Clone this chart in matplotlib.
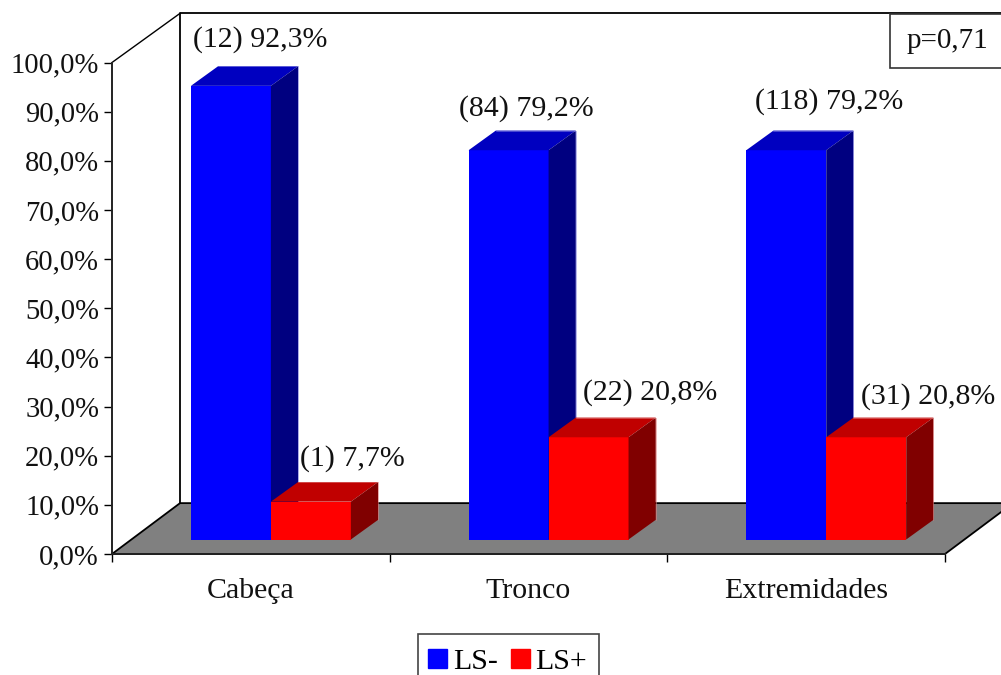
import matplotlib.pyplot as plt
import numpy as np
from matplotlib.patches import Patch, Polygon, Rectangle

plt.rcParams['font.family'] = ['Liberation Serif', 'DejaVu Serif']

categories = ['Cabeça', 'Tronco', 'Extremidades']
ls_neg_pct = [92.3, 79.2, 79.2]
ls_pos_pct = [7.7, 20.8, 20.8]
ls_neg_n = [12, 84, 118]
ls_pos_n = [1, 22, 31]
y_ticks = [0, 10, 20, 30, 40, 50, 60, 70, 80, 90, 100]
p_text = 'p=0,71'

# size of the fake 3D box, in data units
DEPTH_X = 0.245
DEPTH_Y = 10.0
FLOOR_Y = 10.35
BAR_W = 0.288
BAR_FRONT = 0.295
BAR_DEPTH = 0.40
FS = 21.5

W, H = 1001, 675
fig = plt.figure(figsize=(W / 100, H / 100), dpi=100)
ax = fig.add_axes([112 / W, 1 - 554 / H, 833 / W, 491.5 / H])
ax.set_xlim(0, 3)
ax.set_ylim(0, 100)
ax.patch.set_visible(False)


def proj(x, y, d):
    return (x + d * DEPTH_X, y + d * DEPTH_Y)


# floor and back walls
floor = [(0, 0), (3, 0), (3 + DEPTH_X, FLOOR_Y), (DEPTH_X, FLOOR_Y)]
ax.add_patch(Polygon(floor, closed=True, fc='#808080', ec='black', lw=1.3, clip_on=False, zorder=1))
wall_x = [DEPTH_X, DEPTH_X, 3 + DEPTH_X]
wall_y = [FLOOR_Y, 100 + DEPTH_Y, 100 + DEPTH_Y]
ax.plot(wall_x, wall_y, color='black', lw=1.3, clip_on=False, zorder=1)
ax.plot([0, DEPTH_X], [100, 100 + DEPTH_Y], color='black', lw=1, clip_on=False, zorder=1)


def draw_bar(x0, val, front, top, side, edge, z):
    dx0, base = proj(x0, 0, BAR_FRONT)
    x1 = dx0 + BAR_W
    ax.bar(dx0, val, BAR_W, bottom=base, align='edge', color=front, clip_on=False, zorder=z)
    ddx = BAR_DEPTH * DEPTH_X
    ddy = BAR_DEPTH * DEPTH_Y
    ytop = base + val
    ax.add_patch(Polygon([(dx0, ytop), (x1, ytop), (x1 + ddx, ytop + ddy), (dx0 + ddx, ytop + ddy)],
                         closed=True, fc=top, ec='none', clip_on=False, zorder=z))
    ax.add_patch(Polygon([(x1, base), (x1 + ddx, base + ddy), (x1 + ddx, ytop + ddy), (x1, ytop)],
                         closed=True, fc=side, ec='none', clip_on=False, zorder=z))
    # thin pale outline on the outer corner of the box
    ax.plot([dx0 + ddx, x1 + ddx, x1 + ddx], [ytop + ddy, ytop + ddy, base + ddy], color=edge, lw=0.4,
            clip_on=False, zorder=z)
    return dx0 + BAR_W / 2, ytop


neg_offsets = [(29, 46), (18, 42), (43, 49)]
pos_offsets = [(41, 43), (62, 45), (62, 41)]

for i in range(len(categories)):
    left = i + 0.5 - BAR_W
    xa, ya = draw_bar(left, ls_neg_pct[i], '#0000ff', '#0000c0', '#000080', '#8080e0', 3)
    xb, yb = draw_bar(left + BAR_W, ls_pos_pct[i], '#ff0000', '#c00000', '#800000', '#e08080', 4)
    label = f'({ls_neg_n[i]}) {ls_neg_pct[i]:.1f}%'.replace('.', ',')
    ax.annotate(label, (xa, ya), xytext=neg_offsets[i], textcoords='offset pixels',
                ha='center', va='center', fontsize=FS, color='#111111', annotation_clip=False, zorder=6)
    label = f'({ls_pos_n[i]}) {ls_pos_pct[i]:.1f}%'.replace('.', ',')
    ax.annotate(label, (xb, yb), xytext=pos_offsets[i], textcoords='offset pixels',
                ha='center', va='center', fontsize=FS, color='#111111', annotation_clip=False, zorder=6)

# axes
for s in ['top', 'right']:
    ax.spines[s].set_visible(False)
for s in ['left', 'bottom']:
    ax.spines[s].set_linewidth(1.4)
    ax.spines[s].set_color('#222222')
    ax.spines[s].set_zorder(5)
ax.set_yticks(y_ticks)
ax.set_yticklabels([f'{t:.1f}%'.replace('.', ',') for t in y_ticks], fontsize=20.6, color='#111111')
ax.set_xticks([0, 1, 2, 3])
ax.set_xticklabels([])
ax.set_xticks(np.arange(len(categories)) + 0.5, labels=categories, minor=True)
ax.tick_params(axis='y', length=5.8, width=1, pad=3.5)
ax.tick_params(axis='x', which='major', length=5.8, width=1)
ax.tick_params(axis='x', which='minor', length=0, pad=17, labelsize=FS, labelcolor='#111111')

# p value box in the upper right corner
fig.add_artist(Rectangle((890 / W, 1 - 68 / H), 130 / W, 54 / H, transform=fig.transFigure,
                         fc='white', ec='#333333', lw=1.2, zorder=7))
fig.text(947.5 / W, 1 - 41 / H, p_text, ha='center', va='center', fontsize=21, color='#111111', zorder=8)

# legend box runs off the bottom edge
fig.add_artist(Rectangle((418 / W, -10 / H), 181 / W, (H - 634 + 10) / H, transform=fig.transFigure,
                         fc='white', ec='#444444', lw=1.2, zorder=7))
handles = [Patch(color='#0000ff', label='LS-'), Patch(color='#ff0000', label='LS+')]
leg = fig.legend(handles=handles, loc='center left', bbox_to_anchor=(428 / W, 1 - 662 / H), ncols=2,
                 fontsize=FS, frameon=False, handlelength=0.64, handleheight=0.6,
                 handletextpad=0.2, columnspacing=0.42, borderpad=0, borderaxespad=0)
leg.set_zorder(8)

fig.savefig('out.png', dpi=100)
